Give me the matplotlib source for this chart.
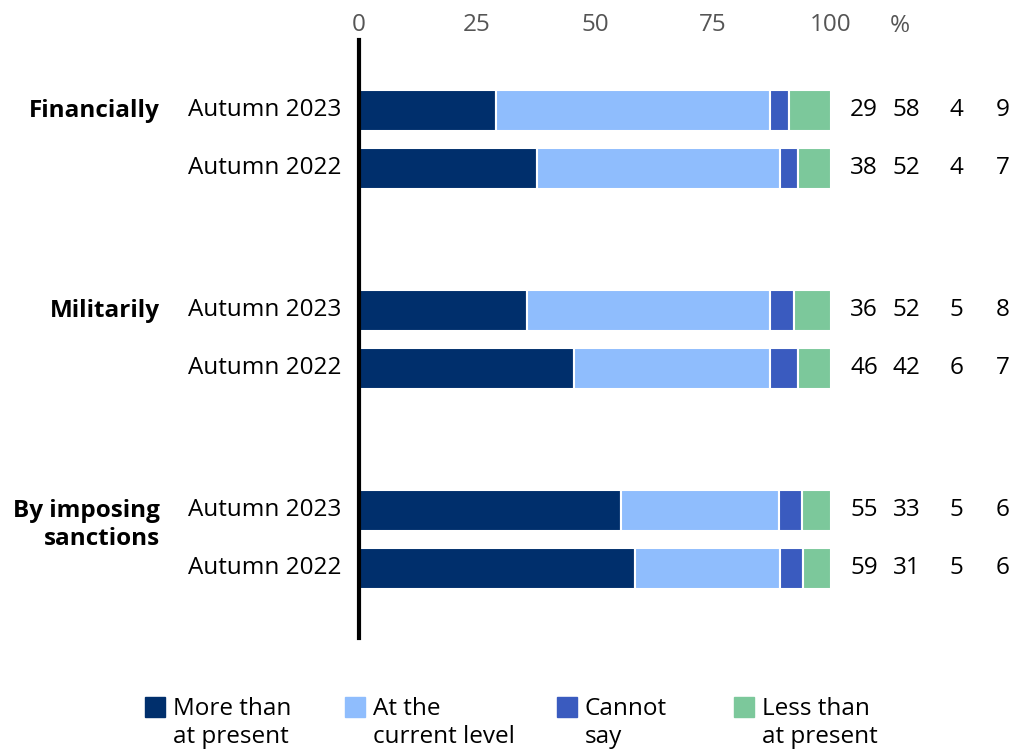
import matplotlib.pyplot as plt
from matplotlib.patches import Rectangle
import numpy as np

plt.rcParams['font.family'] = ['Open Sans', 'DejaVu Sans']

groups = ['Financially', 'Militarily', 'By imposing\nsanctions']
periods = ['Autumn 2023', 'Autumn 2022']
series = ['More than\nat present', 'At the\ncurrent level', 'Cannot\nsay', 'Less than\nat present']
colors = ['#002f6c', '#8fbdfd', '#3a5bbf', '#7cc89b']

more = [29, 38, 36, 46, 55, 59]
current = [58, 52, 52, 42, 33, 31]
cannot = [4, 4, 5, 6, 5, 5]
less = [9, 7, 8, 7, 6, 6]
ticks = [0, 25, 50, 75, 100]

vals = np.array([more, current, cannot, less], dtype=float)
shares = vals / vals.sum(axis=0) * 100  # bars fill to 100

FS = 17.5
W, H = 1017, 753
fig = plt.figure(figsize=(W / 100, H / 100), dpi=100)
top_px, bot_px = 40, 638
ax = fig.add_axes([359 / W, 1 - bot_px / H, 472 / W, (bot_px - top_px) / H])
ax.set_xlim(0, 100)
ax.set_ylim(bot_px, top_px)

ypos = [110 + 200 * g + 58 * i for g in range(len(groups)) for i in range(len(periods))]

left = np.zeros(len(ypos))
for k in range(len(series)):
    ax.barh(ypos, shares[k], left=left, height=41, color=colors[k],
            edgecolor='white', linewidth=1.5)
    left += shares[k]

val_x = [107, 116, 126.5, 136.3]
for j, y in enumerate(ypos):
    for k in range(len(series)):
        ax.text(val_x[k], y, f'{int(vals[k, j])}', ha='center', va='center',
                fontsize=FS, color='black', clip_on=False)
    ax.text(-3.8, y, periods[j % 2], ha='right', va='center', fontsize=FS, clip_on=False)

for g, name in enumerate(groups):
    y = ypos[2 * g]
    ax.text(-42.2, y - 11, name, ha='right', va='top', fontsize=FS,
            fontweight='bold', linespacing=1.2, clip_on=False)

ax.xaxis.tick_top()
ax.set_xticks(ticks)
ax.set_xticklabels([str(t) for t in ticks])
ax.tick_params(axis='x', length=0, labelsize=FS, labelcolor='#555555', pad=2)
ax.text(114.5, 23, '%', ha='center', va='center_baseline', fontsize=FS,
        color='#555555', clip_on=False)

ax.set_yticks([])
for s in ['top', 'right', 'bottom']:
    ax.spines[s].set_visible(False)
ax.spines['left'].set_linewidth(3)
ax.spines['left'].set_color('black')

leg_x = [145, 345, 557, 734]
for k in range(len(series)):
    fig.patches.append(Rectangle((leg_x[k] / W, 1 - 717 / H), 20 / W, 20 / H,
                                 transform=fig.transFigure, color=colors[k]))
    fig.text((leg_x[k] + 28) / W, 1 - 697 / H, series[k], ha='left', va='top',
             fontsize=FS, linespacing=1.2)

fig.savefig('out.png', dpi=100)
